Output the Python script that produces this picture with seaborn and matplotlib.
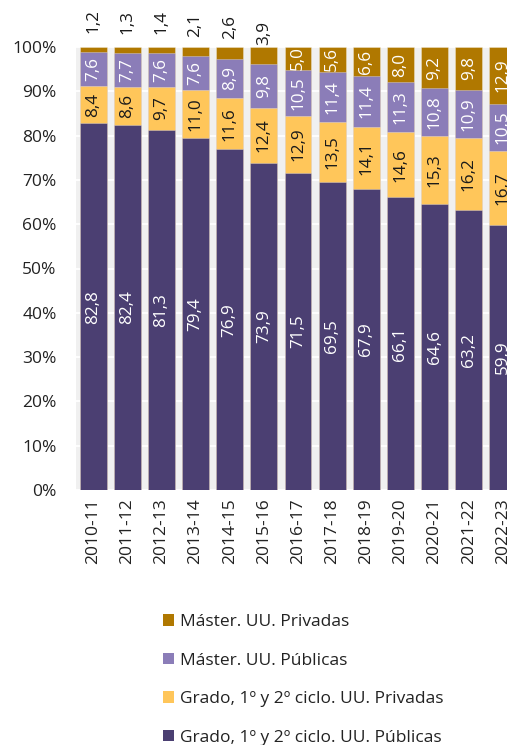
import numpy as np
import pandas as pd
import matplotlib
matplotlib.use("Agg")
import matplotlib.pyplot as plt
import seaborn as sns
from matplotlib.patches import Patch

years = ["2010-11", "2011-12", "2012-13", "2013-14", "2014-15", "2015-16", "2016-17",
         "2017-18", "2018-19", "2019-20", "2020-21", "2021-22", "2022-23"]
grado_publicas = [82.8, 82.4, 81.3, 79.4, 76.9, 73.9, 71.5, 69.5, 67.9, 66.1, 64.6, 63.2, 59.9]
grado_privadas = [8.4, 8.6, 9.7, 11.0, 11.6, 12.4, 12.9, 13.5, 14.1, 14.6, 15.3, 16.2, 16.7]
master_publicas = [7.6, 7.7, 7.6, 7.6, 8.9, 9.8, 10.5, 11.4, 11.4, 11.3, 10.8, 10.9, 10.5]
master_privadas = [1.2, 1.3, 1.4, 2.1, 2.6, 3.9, 5.0, 5.6, 6.6, 8.0, 9.2, 9.8, 12.9]

series_names = ["Grado, 1º y 2º ciclo. UU. Públicas",
                "Grado, 1º y 2º ciclo. UU. Privadas",
                "Máster. UU. Públicas",
                "Máster. UU. Privadas"]
series_vals = [grado_publicas, grado_privadas, master_publicas, master_privadas]
colors = ["#4B3F72", "#FFC65A", "#8B7DB8", "#B07800"]
label_colors = ["white", "#1a1a1a", "white", "white"]

sns.set_theme(style="white")
plt.rcParams["font.family"] = ["Open Sans", "DejaVu Sans"]

fig = plt.figure(figsize=(5.07, 7.45), dpi=100)
W, H = 507, 745
ax = fig.add_axes([76 / W, (H - 490) / H, 444 / W, 443 / H])
ax.set_facecolor("#F0F0F0")

cum = np.zeros(len(years))
cums = []
for vals in series_vals:
    cum = cum + np.array(vals)
    cums.append(cum.copy())

# draw cumulative bars from the top series down, so each overlays the previous
for i in range(len(series_vals) - 1, -1, -1):
    d = pd.DataFrame({"year": years, "val": cums[i]})
    sns.barplot(data=d, x="year", y="val", color=colors[i], saturation=1,
                width=0.79, ax=ax, edgecolor=(1, 1, 1, 0.35), linewidth=0.6,
                errorbar=None, zorder=3)

ax.set_ylim(0, 100)
ax.set_xlim(-0.5, len(years) - 0.5)
ax.set_yticks(np.arange(0, 101, 10))
ax.set_yticklabels([f"{v}%" for v in range(0, 101, 10)])
ax.yaxis.grid(True, color="white", linewidth=1.3, zorder=0)
ax.set_axisbelow(True)
for s in ax.spines.values():
    s.set_visible(False)
ax.set_xlabel("")
ax.set_ylabel("")
ax.tick_params(axis="y", labelsize=12.5, colors="#222222", pad=14, length=0)
ax.tick_params(axis="x", labelsize=12.5, colors="#222222", pad=6, length=0, rotation=90)

def fmt(v):
    return f"{v:.1f}".replace(".", ",")

lab_size = 12.3
for i, vals in enumerate(series_vals):
    bottoms = cums[i] - np.array(vals)
    for j, v in enumerate(vals):
        if i == 3 and v < 4.5:
            ax.text(j, bottoms[j] + 4.3, fmt(v), rotation=90, ha="center", va="bottom",
                    fontsize=lab_size, color="#1a1a1a", clip_on=False)
        else:
            ax.text(j, bottoms[j] + v / 2, fmt(v), rotation=90, ha="center", va="center",
                    fontsize=lab_size, color=label_colors[i], zorder=5)

handles = [Patch(facecolor=colors[i], edgecolor="none") for i in range(3, -1, -1)]
labels = [series_names[i] for i in range(3, -1, -1)]
fig.legend(handles, labels, loc="upper left", bbox_to_anchor=(163 / W, 1 - 614 / H),
           frameon=False, fontsize=12.5, handlelength=0.65, handleheight=0.65,
           handletextpad=0.35, labelspacing=1.3, borderpad=0, borderaxespad=0,
           labelcolor="#222222")

fig.savefig("out.png", dpi=100)
